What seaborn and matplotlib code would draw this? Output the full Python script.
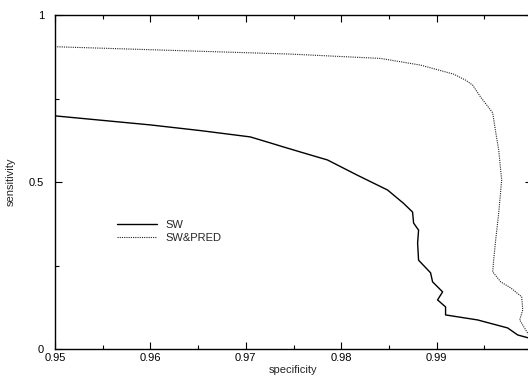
import numpy as np
import pandas as pd
import matplotlib
matplotlib.use("Agg")
import matplotlib.pyplot as plt
from matplotlib.ticker import MultipleLocator
import seaborn as sns

# values
sw_spec = [0.95, 0.95997, 0.96522, 0.97047, 0.97257, 0.97394, 0.97677, 0.97856,
           0.98172, 0.98486, 0.98654, 0.98748, 0.98759, 0.98811, 0.98801, 0.98811,
           0.98937, 0.98958, 0.99063, 0.99010, 0.99094, 0.99094, 0.99430, 0.99745,
           0.99850, 0.99966, 1.0]
sw_sens = [0.698, 0.671, 0.654, 0.635, 0.617, 0.605, 0.581, 0.566,
           0.520, 0.476, 0.436, 0.410, 0.377, 0.356, 0.317, 0.266,
           0.228, 0.201, 0.171, 0.147, 0.126, 0.102, 0.087, 0.063,
           0.042, 0.033, 0.03]

pred_spec = [0.95, 0.97467, 0.98412, 0.98832, 0.99178, 0.99304, 0.99378, 0.99462,
             0.99588, 0.99619, 0.99651, 0.99682, 0.99651, 0.99619, 0.99598, 0.99588,
             0.99672, 0.99777, 0.99892, 0.99903, 0.99871, 0.99934, 0.99966, 1.0]
pred_sens = [0.905, 0.883, 0.870, 0.850, 0.823, 0.805, 0.790, 0.754,
             0.707, 0.650, 0.596, 0.506, 0.407, 0.326, 0.266, 0.231,
             0.201, 0.183, 0.156, 0.117, 0.087, 0.057, 0.042, 0.035]

sns.set_style("ticks")
plt.rcParams['font.family'] = ['Liberation Sans', 'DejaVu Sans']
plt.rcParams['font.size'] = 8

df_sw = pd.DataFrame({'specificity': sw_spec, 'sensitivity': sw_sens})
df_pred = pd.DataFrame({'specificity': pred_spec, 'sensitivity': pred_sens})

fig = plt.figure(figsize=(5.28, 3.79), dpi=100)
ax = fig.add_axes([55 / 528, 1 - 349 / 379, 477 / 528, 334 / 379])

sns.lineplot(data=df_sw, x='specificity', y='sensitivity', sort=False, estimator=None,
             color='black', linewidth=1.0, label='SW', ax=ax)
sns.lineplot(data=df_pred, x='specificity', y='sensitivity', sort=False, estimator=None,
             color='#222222', linewidth=0.8, linestyle=(0, (1, 1)), label='SW&PRED', ax=ax)

ax.set_xlim(0.95, 1.0)
ax.set_ylim(0, 1)
ax.xaxis.set_major_locator(MultipleLocator(0.01))
ax.xaxis.set_minor_locator(MultipleLocator(0.005))
ax.yaxis.set_major_locator(MultipleLocator(0.5))
ax.yaxis.set_minor_locator(MultipleLocator(0.25))
# the label for 1 falls outside the cropped picture
ax.xaxis.set_major_formatter(plt.FuncFormatter(lambda v, p: f'{v:.2f}' if v < 0.999 else ''))
ax.yaxis.set_major_formatter(plt.FuncFormatter(lambda v, p: f'{v:g}'))

ax.tick_params(which='both', direction='in', top=True, right=True, width=0.8, colors='black')
ax.tick_params(which='major', length=5, pad=3)
ax.tick_params(which='minor', length=3)
ax.tick_params(axis='y', pad=8)
for s in ax.spines.values():
    s.set_linewidth(1.0)
    s.set_color('black')

ax.set_xlabel('specificity', labelpad=1)
ax.set_ylabel('sensitivity', labelpad=9)

ax.legend(loc='upper left', bbox_to_anchor=(0.12, 0.40), frameon=False,
          handlelength=3.6, handletextpad=0.8, labelspacing=0.3, borderaxespad=0)

fig.savefig('out.png', dpi=100)
